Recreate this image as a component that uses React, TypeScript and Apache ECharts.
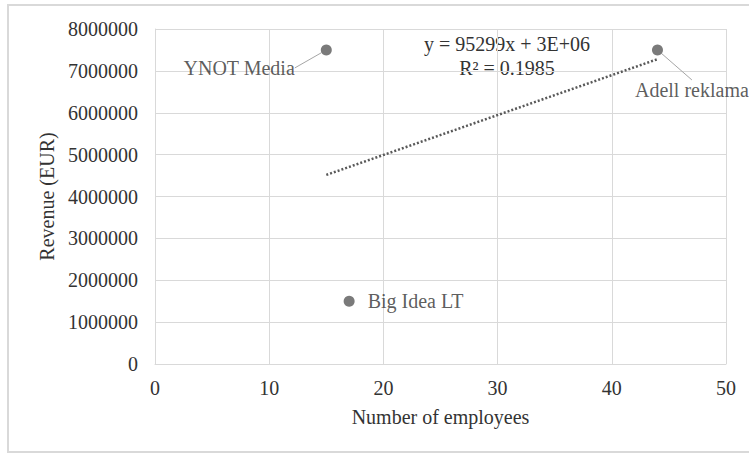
import React, { useEffect, useRef } from "react";
import * as echarts from "echarts";

// ---- data ----
const companies = ["YNOT Media", "Big Idea LT", "Adell reklama"];
const employees = [15, 17, 44];
const revenue = [7500000, 1500000, 7500000];
const xTicks = [0, 10, 20, 30, 40, 50];
const yTicks = [0, 1000000, 2000000, 3000000, 4000000, 5000000, 6000000, 7000000, 8000000];

// ---- label placement (style only) ----
const labelPlacement = [
  { position: "left", distance: 5, dx: -21, dy: 18, line: true },
  { position: "right", distance: 13, dx: 0, dy: 0, line: false },
  { position: "right", distance: 5, dx: -33, dy: 40, line: true },
];

const FONT = '"Liberation Serif", "Times New Roman", serif';
const TEXT = "#333333";
const GRID = "#d9d9d9";
const MARK = "#595959";

function regression(xs: number[], ys: number[]) {
  const n = xs.length;
  const mx = xs.reduce((a, b) => a + b, 0) / n;
  const my = ys.reduce((a, b) => a + b, 0) / n;
  let sxx = 0, sxy = 0, syy = 0;
  for (let i = 0; i < n; i++) {
    sxx += (xs[i] - mx) ** 2;
    sxy += (xs[i] - mx) * (ys[i] - my);
    syy += (ys[i] - my) ** 2;
  }
  const slope = sxy / sxx;
  const intercept = my - slope * mx;
  const r2 = (sxy * sxy) / (sxx * syy);
  return { slope, intercept, r2 };
}

function excelSci(v: number) {
  const s = v.toExponential(0); // e.g. 3e+6
  const [m, e] = s.split("e");
  const sign = e[0] === "-" ? "-" : "+";
  const digits = e.replace(/[+-]/, "").padStart(2, "0");
  return `${m}E${sign}${digits}`;
}

export default function App() {
  const ref = useRef<HTMLDivElement>(null);

  useEffect(() => {
    if (!ref.current) return;
    const chart = echarts.init(ref.current, undefined, { renderer: "svg" });
    const { slope, intercept, r2 } = regression(employees, revenue);
    const xMin = Math.min(...employees);
    const xMax = Math.max(...employees);
    const trend = [
      [xMin, slope * xMin + intercept],
      [xMax, slope * xMax + intercept],
    ];
    const eqText = `y = ${Math.round(slope)}x + ${excelSci(intercept)}\nR² = ${r2.toFixed(4)}`;

    const scatterData = companies.map((name, i) => ({
      name,
      value: [employees[i], revenue[i]],
      label: {
        show: true,
        position: labelPlacement[i].position,
        distance: labelPlacement[i].distance,
      },
      labelLine: { show: labelPlacement[i].line, lineStyle: { color: "#a6a6a6", width: 1 } },
    }));

    chart.setOption({
      animation: false,
      textStyle: { fontFamily: FONT },
      grid: { left: 155, top: 29, right: 23, bottom: 90, containLabel: false },
      xAxis: {
        type: "value",
        min: xTicks[0],
        max: xTicks[xTicks.length - 1],
        interval: xTicks[1] - xTicks[0],
        name: "Number of employees",
        nameLocation: "middle",
        nameGap: 43,
        nameTextStyle: { fontFamily: FONT, fontSize: 20, color: TEXT },
        axisLine: { show: true, lineStyle: { color: GRID, width: 1 } },
        axisTick: { show: false },
        axisLabel: { fontFamily: FONT, fontSize: 20, color: TEXT, margin: 14 },
        splitLine: { show: true, lineStyle: { color: GRID, width: 1 } },
      },
      yAxis: {
        type: "value",
        min: yTicks[0],
        max: yTicks[yTicks.length - 1],
        interval: yTicks[1] - yTicks[0],
        name: "Revenue (EUR)",
        nameLocation: "middle",
        nameGap: 95,
        nameTextStyle: { fontFamily: FONT, fontSize: 20, color: TEXT },
        axisLine: { show: true, lineStyle: { color: GRID, width: 1 } },
        axisTick: { show: false },
        axisLabel: {
          fontFamily: FONT,
          fontSize: 20,
          color: TEXT,
          margin: 17,
          formatter: (v: number) => String(v),
        },
        splitLine: { show: true, lineStyle: { color: GRID, width: 1 } },
      },
      graphic: [
        {
          type: "rect",
          z: -10,
          silent: true,
          shape: { x: 8, y: 5, width: 800, height: 447 },
          style: { fill: "none", stroke: "#d9d9d9", lineWidth: 2 },
        },
        {
          type: "text",
          x: 507,
          y: 56,
          style: {
            text: eqText,
            font: `20px ${FONT}`,
            fill: TEXT,
            textAlign: "center",
            textVerticalAlign: "middle",
            lineHeight: 24,
          },
        },
      ],
      series: [
        {
          type: "line",
          data: trend,
          symbol: "none",
          silent: true,
          lineStyle: { color: MARK, width: 2.5, type: [2, 2] },
          z: 2,
        },
        {
          type: "scatter",
          data: scatterData,
          symbolSize: 11,
          itemStyle: { color: MARK },
          label: {
            formatter: "{b}",
            fontFamily: FONT,
            fontSize: 20,
            color: TEXT,
          },
          labelLayout: (params: any) => {
            const p = labelPlacement[params.dataIndex];
            return { dx: p.dx, dy: p.dy };
          },
          z: 3,
        },
      ],
    });
    return () => chart.dispose();
  }, []);

  return (
    <div
      ref={ref}
      style={{ position: "fixed", left: 0, top: 0, width: 749, height: 454, background: "#fff" }}
    />
  );
}
